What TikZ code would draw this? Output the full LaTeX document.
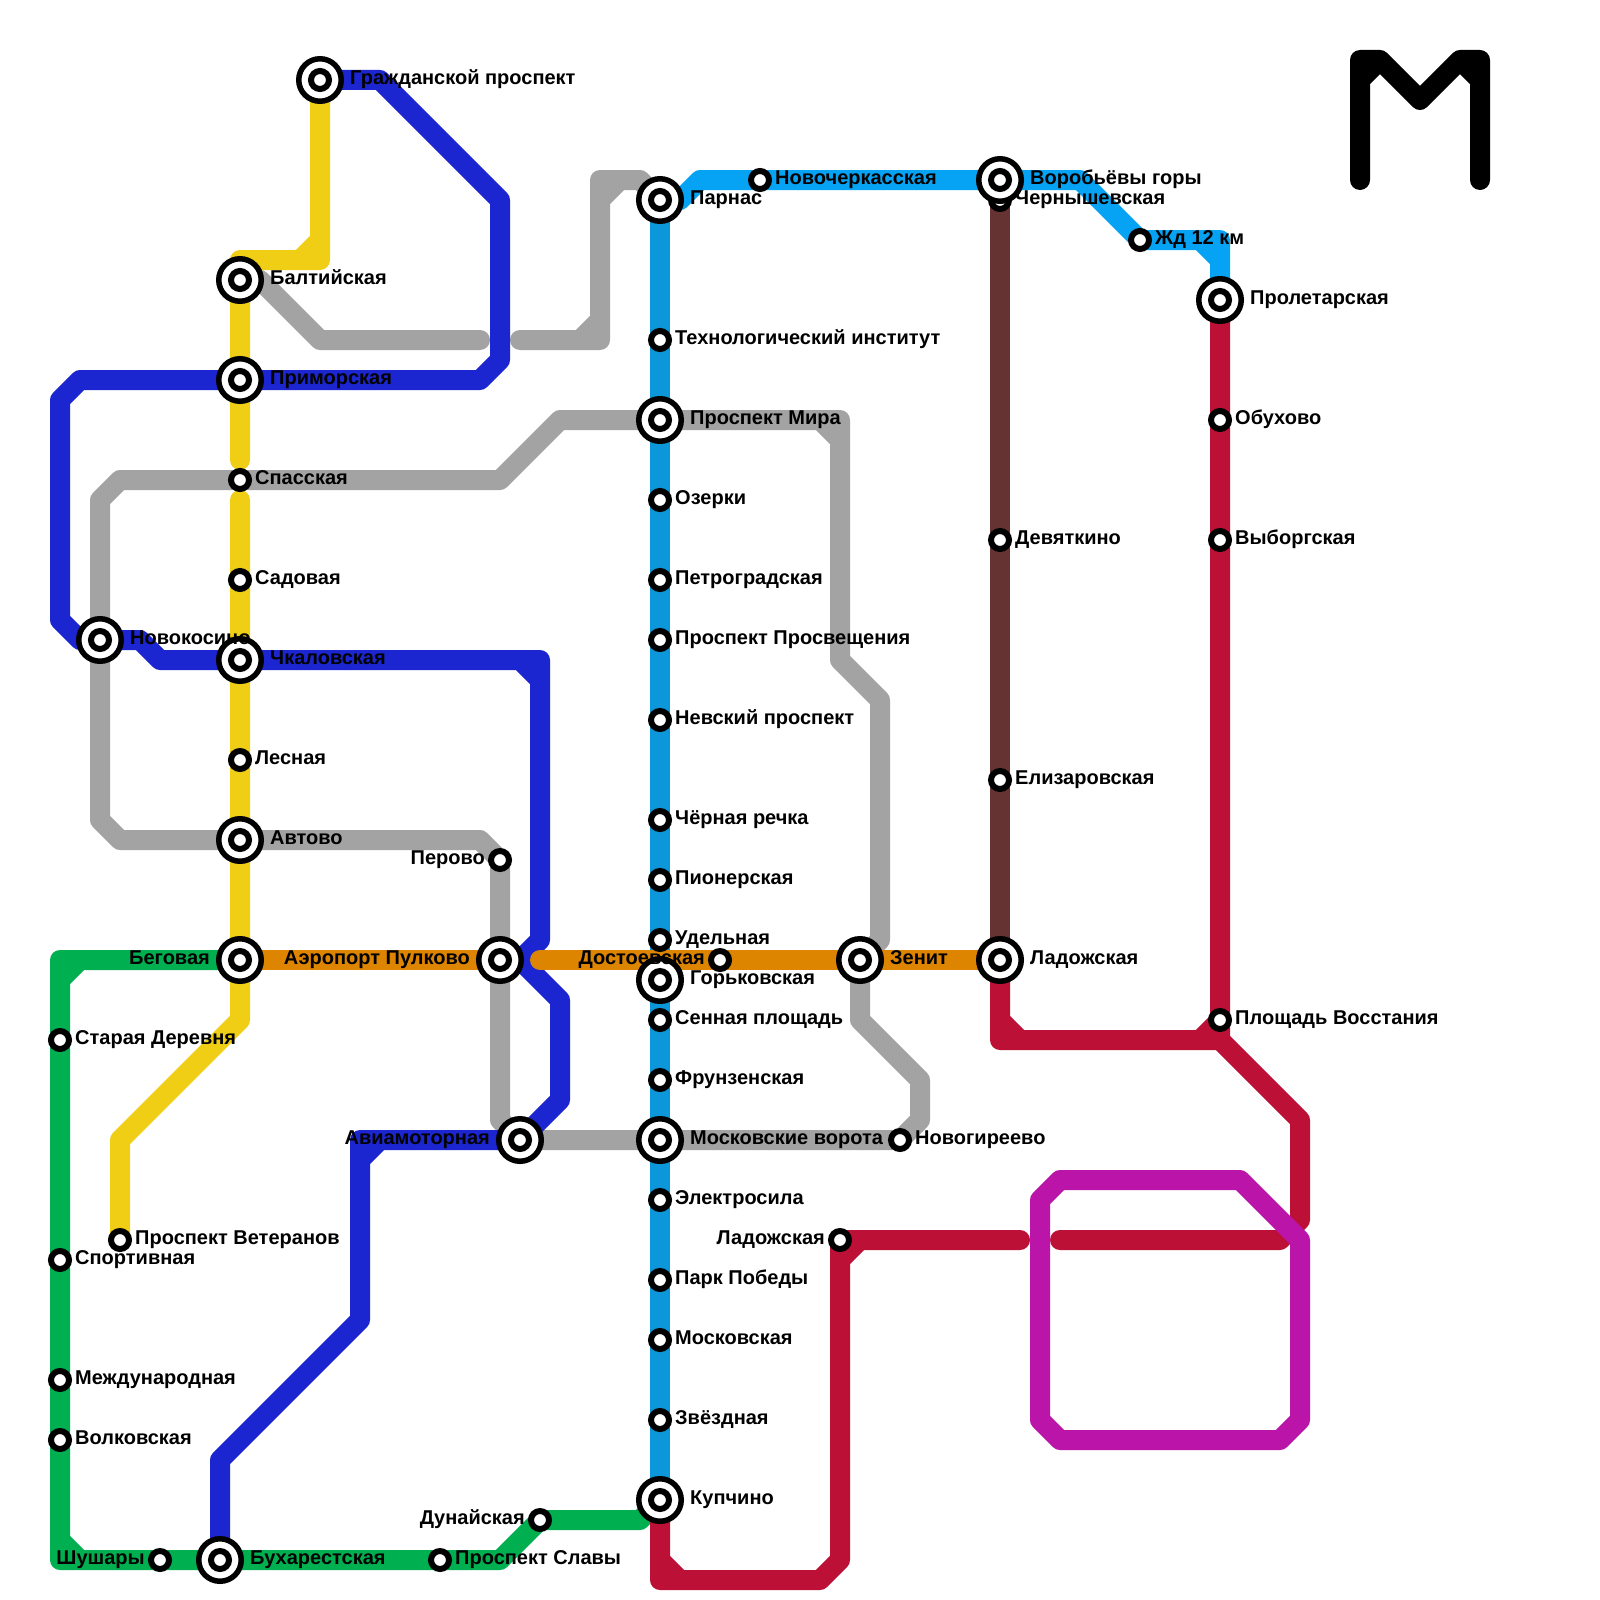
\documentclass[tikz,border=0pt]{standalone}
\usepackage{fontspec}
\setmainfont{Liberation Sans}[BoldFont={Liberation Sans Bold}]
\definecolor{cyellow}{HTML}{F0CE15}
\definecolor{cblue}{HTML}{1C26D0}
\definecolor{cgray}{HTML}{A3A3A3}
\definecolor{csky}{HTML}{0B97D9}
\definecolor{ccyan}{HTML}{06A3F5}
\definecolor{cbrown}{HTML}{663333}
\definecolor{cred}{HTML}{BC1037}
\definecolor{cmag}{HTML}{BA14A8}
\definecolor{corange}{HTML}{DD8500}
\definecolor{cgreen}{HTML}{00B050}
\tikzset{
  x=1pt,y=-1pt,
  metro/.style={line width=20pt,line cap=round,line join=round},
  smallst/.style={circle,draw=black,fill=white,line width=6pt,minimum size=18pt,inner sep=0pt,outer sep=0pt},
  bigst/.style={circle,draw=black,fill=white,line width=5.5pt,minimum size=42.5pt,inner sep=0pt,outer sep=0pt},
  lblr/.style={anchor=base west,inner sep=0pt,yshift=-6.5pt,font=\fontsize{20}{22}\selectfont\bfseries},
  lbll/.style={anchor=base east,inner sep=0pt,yshift=-6.5pt,font=\fontsize{20}{22}\selectfont\bfseries},
}
\newcommand{\bigstation}[1]{\node[bigst] (b#1) at (#1) {};\node[smallst] (i#1) at (#1) {};}
\newcommand{\smallstation}[1]{\node[smallst] (i#1) at (#1) {};}
\begin{document}
\begin{tikzpicture}
\useasboundingbox (0,0) rectangle (1600,1600);
\fill[white] (0,0) rectangle (1600,1600);
% station positions
\foreach \n/\p in {grazh/{320,80},balt/{240,280},prim/{240,380},spas/{240,480},sad/{240,580},chk/{240,660},nov/{100,640},les/{240,760},avt/{240,840},per/{500,860},beg/{240,960},aero/{500,960},star/{60,1040},vet/{120,1240},sport/{60,1260},mezh/{60,1380},volk/{60,1440},shu/{160,1560},buh/{220,1560},slav/{440,1560},dun/{540,1520},avia/{520,1140},dost/{720,960},parn/{660,200},novch/{760,180},tech/{660,340},mira/{660,420},oz/{660,500},petr/{660,580},pros/{660,640},nev/{660,720},cher/{660,820},pion/{660,880},ud/{660,940},gor/{660,980},sen/{660,1020},fr/{660,1080},mosv/{660,1140},novg/{900,1140},el/{660,1200},park/{660,1280},mosk/{660,1340},zv/{660,1420},kup/{660,1500},ladl/{840,1240},zen/{860,960},lad/{1000,960},dev/{1000,540},eli/{1000,780},vor/{1000,180},chern/{1000,200},zhd/{1140,240},prol/{1220,300},ob/{1220,420},vyb/{1220,540},pl/{1220,1020}}
  {\coordinate (\n) at (\p);}
% gray
\draw[metro,cgray] (balt) -- (260,280) -- (320,340) -- (480,340);
\draw[metro,cgray] (520,340) -- (600,340) -- (600,180) -- (640,180) -- (parn) (580,340) -- (600,320) (600,200) -- (620,180);
\draw[metro,cgray] (mira) -- (560,420) -- (500,480) -- (spas) -- (120,480) -- (100,500) -- (nov) -- (100,820) -- (120,840) -- (avt) -- (480,840) -- (per) -- (aero) -- (500,1120) -- (avia) -- (mosv) -- (novg) -- (920,1120) -- (920,1080) -- (860,1020) -- (zen) -- (880,940) -- (880,700) -- (840,660) -- (840,420) -- (mira) (820,420) -- (840,440);
% yellow
\draw[metro,cyellow] (grazh) -- (320,260) -- (240,260) -- (240,460) (320,240) -- (300,260);
\draw[metro,cyellow] (240,500) -- (chk) -- (avt) -- (beg) -- (240,1020) -- (120,1140) -- (vet);
% blue
\draw[metro,cblue] (grazh) -- (380,80) -- (500,200) -- (500,360) -- (480,380) -- (prim) -- (80,380) -- (60,400) -- (60,620) -- (80,640) -- (nov) -- (140,640) -- (160,660) -- (chk) -- (540,660) -- (540,940) -- (520,960) -- (560,1000) -- (560,1100) -- (avia) -- (360,1140) -- (360,1320) -- (220,1460) -- (buh) (520,660) -- (540,680) (360,1160) -- (380,1140);
% green
\draw[metro,cgreen] (beg) -- (60,960) -- (60,1560) -- (500,1560) -- (dun) -- (640,1520) -- (kup) (60,980) -- (80,960) (60,1540) -- (80,1560);
% sky
\draw[metro,csky] (parn) -- (kup);
% cyan
\draw[metro,ccyan] (parn) -- (680,200) -- (700,180) -- (1080,180) -- (zhd) -- (1220,240) -- (prol) (1200,240) -- (1220,260);
% brown
\draw[metro,cbrown] (chern) -- (lad);
% orange
\draw[metro,corange] (beg) -- (aero);
\draw[metro,corange] (540,960) -- (lad);
% red
\draw[metro,cred] (kup) -- (660,1580) -- (820,1580) -- (840,1560) -- (ladl) -- (1020,1240) (660,1560) -- (680,1580) (840,1260) -- (860,1240);
\draw[metro,cred] (1060,1240) -- (1280,1240) -- (1300,1220) -- (1300,1120) -- (1220,1040) -- (1000,1040) -- (lad) (1000,1020) -- (1020,1040) (1200,1040) -- (pl) (prol) -- (1220,1040);
% magenta
\draw[metro,cmag] (1060,1180) -- (1240,1180) -- (1300,1240) -- (1300,1420) -- (1280,1440) -- (1060,1440) -- (1040,1420) -- (1040,1200) -- cycle;
% logo
\draw[metro,black] (1360,180) -- (1360,60) -- (1380,60) -- (1420,100) -- (1460,60) -- (1480,60) -- (1480,180) (1360,80) -- (1380,60) (1460,60) -- (1480,80);
% stations
\foreach \n in {spas,sad,les,per,star,vet,sport,mezh,volk,shu,slav,dun,dost,novch,tech,oz,petr,pros,nev,cher,pion,ud,sen,fr,novg,el,park,mosk,zv,ladl,dev,eli,chern,zhd,ob,vyb,pl} {\smallstation{\n}}
\foreach \n in {grazh,balt,prim,chk,nov,avt,beg,aero,buh,avia,parn,mira,gor,mosv,kup,zen,lad,vor,prol} {\bigstation{\n}}
% labels
\foreach \n/\x/\y/\t in {lgrazh/350/78/Гражданской проспект,lbalt/270/278/Балтийская,lprim/270/378/Приморская,lspas/255/478/Спасская,lsad/255/578/Садовая,lchk/270/658/Чкаловская,lnov/130/638/Новокосино,lles/255/758/Лесная,lavt/270/838/Автово,lstar/75/1038/Старая Деревня,lvet/135/1238/Проспект Ветеранов,lsport/75/1258/Спортивная,lmezh/75/1378/Международная,lvolk/75/1438/Волковская,lbuh/250/1558/Бухарестская,lslav/455/1558/Проспект Славы,lparn/690/198/Парнас,lnovch/775/178/Новочеркасская,ltech/675/338/Технологический институт,lmira/690/418/Проспект Мира,loz/675/498/Озерки,lpetr/675/578/Петроградская,lpros/675/638/Проспект Просвещения,lnev/675/718/Невский проспект,lcher/675/818/Чёрная речка,lpion/675/878/Пионерская,lud/675/938/Удельная,lgor/690/978/Горьковская,lsen/675/1018/Сенная площадь,lfr/675/1078/Фрунзенская,lmosv/690/1138/Московские ворота,lnovg/915/1138/Новогиреево,lel/675/1198/Электросила,lpark/675/1278/Парк Победы,lmosk/675/1338/Московская,lzv/675/1418/Звёздная,lkup/690/1498/Купчино,lzen/890/958/Зенит,llad/1030/958/Ладожская,ldev/1015/538/Девяткино,leli/1015/778/Елизаровская,lvor/1030/178/Воробьёвы горы,lchern/1015/198/Чернышевская,lzhd/1155/238/Жд 12 км,lprol/1250/298/Пролетарская,lob/1235/418/Обухово,lvyb/1235/538/Выборгская,lpl/1235/1018/Площадь Восстания}
  {\node[lblr] (\n) at (\x,\y) {\t};}
\foreach \n/\x/\y/\t in {lper/485/858/Перово,lbeg/210/958/Беговая,laero/470/958/Аэропорт Пулково,lshu/145/1558/Шушары,ldun/525/1518/Дунайская,lavia/490/1138/Авиамоторная,ldost/705/958/Достоевская,lladl/825/1238/Ладожская}
  {\node[lbll] (\n) at (\x,\y) {\t};}
\end{tikzpicture}
\end{document}
